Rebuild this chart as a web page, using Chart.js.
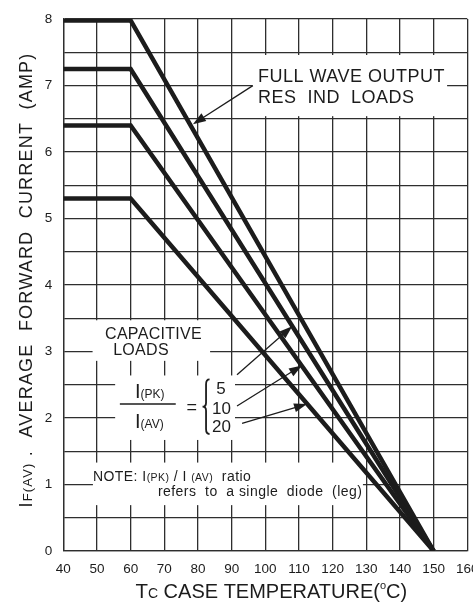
<!DOCTYPE html>
<html>
<head>
<meta charset="utf-8">
<script src="https://cdn.jsdelivr.net/npm/chart.js@4.4.1/dist/chart.umd.min.js"></script>
<style>
  html, body { margin: 0; padding: 0; background: #fff; }
</style>
</head>
<body>
<canvas id="deratingChart" width="473" height="604"></canvas>
<script>
const caseTemp = [40, 60, 150];
const resIndLoads = [7.98, 7.98, 0];
const capRatio5 = [7.25, 7.25, 0];
const capRatio10 = [6.4, 6.4, 0];
const capRatio20 = [5.3, 5.3, 0];
const xTickLabels = [40, 50, 60, 70, 80, 90, 100, 110, 120, 130, 140, 150, 160];
const yTickLabels = [0, 1, 2, 3, 4, 5, 6, 7, 8];

const FONT = "'Liberation Sans', Arial, Helvetica, sans-serif";
const INK = "#1c1c1c";
const GRID = "#2e2e2e";

// white label boxes that hide the grid, in data units [x0, x1, yTop, yBottom]
const labelBoxes = [
  [96.2, 154.0, 7.46, 6.54],
  [48.7, 83.6, 3.47, 2.86],
  [55.4, 91.0, 2.64, 1.67],
  [48.8, 129.0, 1.33, 0.69],
];

// leader arrows [fromX, fromY, tipX, tipY] in data units
const leaders = [
  [96.3, 7.0, 78.5, 6.42],
  [91.6, 2.65, 108.0, 3.38],
  [91.6, 2.18, 110.9, 2.79],
  [93.1, 1.92, 112.4, 2.21],
];

function toPoints(ys) {
  return caseTemp.map((t, i) => ({ x: t, y: ys[i] }));
}

function drawRuns(ctx, x, y, parts) {
  parts.forEach(([text, size, dy = 0]) => {
    ctx.font = size + "px " + FONT;
    ctx.fillText(text, x, y + dy);
    x += ctx.measureText(text).width;
  });
  return x;
}

function runsWidth(ctx, parts) {
  let w = 0;
  parts.forEach(([text, size]) => {
    ctx.font = size + "px " + FONT;
    w += ctx.measureText(text).width;
  });
  return w;
}

function arrow(ctx, x1, y1, x2, y2) {
  const a = Math.atan2(y2 - y1, x2 - x1);
  const L = 13, W = 4.5;
  ctx.beginPath();
  ctx.moveTo(x1, y1);
  ctx.lineTo(x2 - L * 0.7 * Math.cos(a), y2 - L * 0.7 * Math.sin(a));
  ctx.stroke();
  ctx.beginPath();
  ctx.moveTo(x2, y2);
  ctx.lineTo(x2 - L * Math.cos(a) + W * Math.sin(a), y2 - L * Math.sin(a) - W * Math.cos(a));
  ctx.lineTo(x2 - L * Math.cos(a) - W * Math.sin(a), y2 - L * Math.sin(a) + W * Math.cos(a));
  ctx.closePath();
  ctx.fill();
}

const annotations = {
  id: "annotations",
  beforeDatasetsDraw(chart) {
    const { ctx, scales: { x, y } } = chart;
    ctx.save();
    ctx.fillStyle = "#fff";
    labelBoxes.forEach(([x0, x1, y0, y1]) => {
      const px0 = x.getPixelForValue(x0), px1 = x.getPixelForValue(x1);
      const py0 = y.getPixelForValue(y0), py1 = y.getPixelForValue(y1);
      ctx.fillRect(px0, py0, px1 - px0, py1 - py0);
    });
    ctx.restore();
  },
  afterDatasetsDraw(chart) {
    const { ctx, chartArea, scales: { x, y } } = chart;
    const px = v => x.getPixelForValue(v);
    const py = v => y.getPixelForValue(v);
    ctx.save();
    ctx.fillStyle = INK;
    ctx.strokeStyle = INK;
    ctx.textBaseline = "alphabetic";
    ctx.textAlign = "left";

    // full wave label
    ctx.letterSpacing = "0.5px";
    ctx.font = "18px " + FONT;
    ctx.fillText("FULL WAVE OUTPUT", px(97.8), py(7.05));
    ctx.fillText("RES  IND  LOADS", px(97.8), py(6.74));

    // capacitive label
    ctx.letterSpacing = "0.3px";
    ctx.font = "16px " + FONT;
    ctx.fillText("CAPACITIVE", px(52.4), py(3.19));
    ctx.fillText("LOADS", px(54.8), py(2.95));
    ctx.letterSpacing = "0px";

    // ratio fraction
    drawRuns(ctx, px(61.3), py(2.295), [["I", 20], ["(PK)", 12]]);
    drawRuns(ctx, px(61.3), py(1.85), [["I", 20], ["(AV)", 12]]);
    ctx.lineWidth = 1.5;
    ctx.beginPath();
    ctx.moveTo(px(56.8), py(2.21));
    ctx.lineTo(px(73.4), py(2.21));
    ctx.stroke();
    ctx.font = "18px " + FONT;
    ctx.fillText("=", px(76.6), py(2.08));

    // brace
    const bx = px(82.4), top = py(2.58), bot = py(1.76), mid = (top + bot) / 2;
    ctx.lineWidth = 1.8;
    ctx.beginPath();
    ctx.moveTo(bx + 3.5, top);
    ctx.quadraticCurveTo(bx, top, bx, top + 5);
    ctx.lineTo(bx, mid - 4);
    ctx.quadraticCurveTo(bx, mid, bx - 3.5, mid);
    ctx.quadraticCurveTo(bx, mid, bx, mid + 4);
    ctx.lineTo(bx, bot - 5);
    ctx.quadraticCurveTo(bx, bot, bx + 3.5, bot);
    ctx.stroke();

    ctx.font = "17px " + FONT;
    ctx.fillText("5", px(85.4), py(2.355));
    ctx.fillText("10", px(84.2), py(2.06));
    ctx.fillText("20", px(84.2), py(1.79));

    // note
    ctx.letterSpacing = "0.45px";
    drawRuns(ctx, px(48.8), py(1.06), [["NOTE: I", 14], ["(PK)", 10.5], [" / I ", 14], ["(AV)", 10.5], ["  ratio", 14]]);
    ctx.font = "14px " + FONT;
    ctx.fillText("refers  to  a single  diode  (leg)", px(68.1), py(0.82));
    ctx.letterSpacing = "0px";

    // leader arrows
    ctx.lineWidth = 1.3;
    leaders.forEach(([x1, y1, x2, y2]) => arrow(ctx, px(x1), py(y1), px(x2), py(y2)));

    // x axis title
    const xParts = [["T", 20.5], ["C", 14], [" CASE TEMPERATURE", 20], ["(", 20], ["o", 11, -9], ["C)", 20]];
    const xw = runsWidth(ctx, xParts);
    drawRuns(ctx, (chartArea.left + chartArea.right) / 2 + 6 - xw / 2, chartArea.bottom + 47, xParts);

    // y axis title
    const yParts = [["I", 18], ["F(AV)", 13], [" .  AVERAGE  FORWARD  CURRENT  (AMP)", 18]];
    const chars = yParts.reduce((n, p) => n + p[0].length, 0);
    const w0 = runsWidth(ctx, yParts);
    const spacing = (455 - w0) / chars;
    ctx.translate(32, (chartArea.top + chartArea.bottom) / 2 - 5);
    ctx.rotate(-Math.PI / 2);
    ctx.letterSpacing = spacing.toFixed(2) + "px";
    drawRuns(ctx, -455 / 2, 0, yParts);
    ctx.restore();
  },
};

const lineStyle = {
  borderColor: INK,
  borderWidth: 4.5,
  pointRadius: 0,
  tension: 0,
  fill: false,
  borderJoinStyle: "miter",
  borderCapStyle: "butt",
};

new Chart(document.getElementById("deratingChart").getContext("2d"), {
  type: "line",
  data: {
    datasets: [
      { label: "Full wave output res ind loads", data: toPoints(resIndLoads), ...lineStyle },
      { label: "I(PK)/I(AV) = 5", data: toPoints(capRatio5), ...lineStyle },
      { label: "I(PK)/I(AV) = 10", data: toPoints(capRatio10), ...lineStyle },
      { label: "I(PK)/I(AV) = 20", data: toPoints(capRatio20), ...lineStyle },
    ],
  },
  options: {
    responsive: false,
    animation: false,
    layout: { padding: { top: 14, right: 5.7, left: 0, bottom: 0 } },
    plugins: {
      legend: { display: false },
      tooltip: { enabled: false },
    },
    scales: {
      x: {
        type: "linear",
        min: xTickLabels[0],
        max: xTickLabels[xTickLabels.length - 1],
        afterBuildTicks(scale) {
          scale.ticks = xTickLabels.map(v => ({ value: v }));
        },
        ticks: {
          padding: 10,
          color: INK,
          font: { family: FONT, size: 13.5 },
          maxRotation: 0,
          autoSkip: false,
        },
        grid: { color: GRID, lineWidth: 1.3, drawTicks: false },
        border: { color: GRID, width: 1.3 },
        afterFit(scale) {
          scale.height = 53;
          scale.paddingLeft = 0;
          scale.paddingRight = 0;
        },
      },
      y: {
        min: 0,
        max: yTickLabels[yTickLabels.length - 1],
        ticks: {
          stepSize: 0.5,
          padding: 11,
          color: INK,
          font: { family: FONT, size: 13.5 },
          autoSkip: false,
          callback: v => (yTickLabels.includes(v) ? v : ""),
        },
        grid: { color: GRID, lineWidth: 1.3, drawTicks: false },
        border: { color: GRID, width: 1.3 },
        afterFit(scale) {
          scale.width = 63.3;
        },
      },
    },
  },
  plugins: [annotations],
});
</script>
</body>
</html>
